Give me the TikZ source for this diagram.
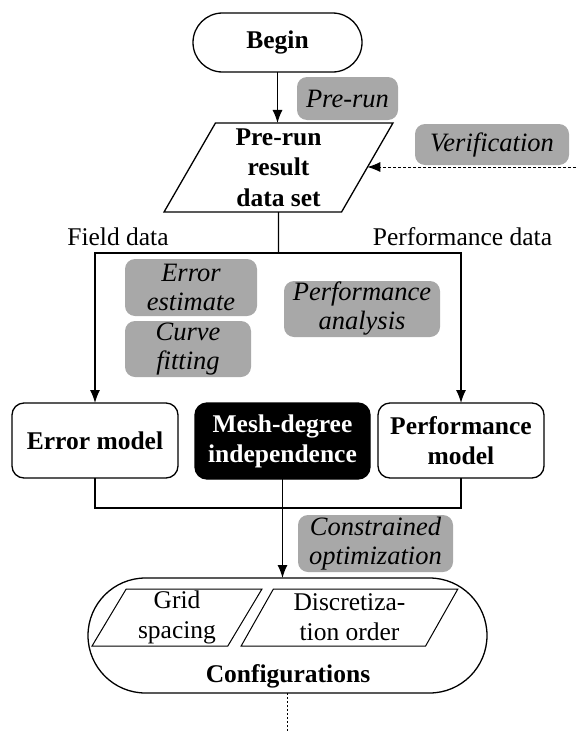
\documentclass[tikz,border=0pt]{standalone}
\usepackage{fontspec}
\setmainfont{Liberation Serif}
\usetikzlibrary{arrows.meta,shapes.geometric}
\definecolor{notegray}{RGB}{168,168,168}

\begin{document}
\begin{tikzpicture}[x=1pt,y=-1pt,
  every node/.style={inner sep=0pt, outer sep=0pt, align=center,
    font=\fontsize{25.5}{30}\selectfont},
  line/.style={line width=1.3pt},
  flow/.style={line, -{Latex[length=13pt,width=10pt]}},
  dashline/.style={line width=1pt, dash pattern=on 3pt off 2pt, -{Latex[length=13pt,width=10pt]}},
  dotline/.style={line width=1pt, dash pattern=on 2pt off 2pt},
  boxnode/.style={draw, line width=1.3pt, rounded corners=12pt,
    font=\fontsize{25.5}{30}\selectfont\bfseries},
  note/.style={fill=notegray, rounded corners=10pt,
    font=\fontsize{26.5}{29}\selectfont\itshape},
  terminal/.style={draw, line width=1.3pt},
  iobox/.style={draw, shape=trapezium, trapezium stretches=true}
]
\useasboundingbox (0,0) rectangle (576,731);

% start terminal and pre-run data
\node[terminal, minimum width=169pt, minimum height=59pt, rounded corners=29.5pt,
  font=\fontsize{25.5}{30}\selectfont\bfseries] (begin) at (277.5,42.5) {Begin};
\node[note, minimum width=101pt, minimum height=43pt] (prerun) at (347.5,98.5) {Pre-run};
\node[iobox, line width=1.3pt, trapezium left angle=65.8, trapezium right angle=114.2,
  minimum width=229pt, minimum height=89pt,
  font=\fontsize{25.5}{30.5}\selectfont\bfseries] (data) at (278.5,167.5) {Pre-run\\result\\data set};
\node[note, minimum width=154pt, minimum height=41pt] (verif) at (492,144.5) {Verification};

% branch labels and annotations
\node[anchor=base] (fieldlbl) at (118,245) {Field data};
\node[anchor=base] (perflbl) at (462.5,245) {Performance data};
\node[note, minimum width=132pt, minimum height=57pt] (errest) at (191,287.5) {Error\\estimate};
\node[note, minimum width=126pt, minimum height=56pt] (curvefit) at (188,349) {Curve\\fitting};
\node[note, minimum width=156pt, minimum height=56pt] (perfan) at (362,309) {Performance\\analysis};

% models
\node[boxnode, minimum width=166pt, minimum height=75pt] (errm) at (95,440.5) {Error model};
\node[boxnode, fill=black, text=white, minimum width=175pt, minimum height=76pt] (mesh) at (282.5,441) {Mesh-degree\\independence};
\node[boxnode, minimum width=166pt, minimum height=75pt] (perfm) at (461,440.5) {Performance\\model};

\node[note, minimum width=155pt, minimum height=57pt] (constr) at (375.5,543.5) {Constrained\\optimization};

% configurations
\node[terminal, minimum width=399pt, minimum height=115pt, rounded corners=57.5pt] (config) at (287.5,635.5) {};
\node[iobox, line width=1pt, trapezium left angle=63.8, trapezium right angle=116.2,
  minimum width=170pt, minimum height=57pt] (grid) at (177,617.5) {Grid\\spacing};
\node[iobox, line width=1pt, trapezium left angle=63.3, trapezium right angle=116.7,
  minimum width=217pt, minimum height=57pt] (disc) at (349.5,617.5) {Discretiza-\\tion order};
\node[anchor=base, font=\fontsize{25.5}{30}\selectfont\bfseries] (cfglbl) at (288,682) {Configurations};

% connectors
\coordinate (split) at (278.5,253);
\coordinate (join) at (282.5,508);
\coordinate (vin) at (576,167);
\coordinate (vout) at (287.5,731);

\draw[flow] (begin.south) -- (begin.south |- data.north);
\draw[dashline] (vin) -- (vin -| data.east);
\draw[line] (data.south) -- (split);
\draw[flow] (split) -| (errm.north);
\draw[flow] (split) -| (perfm.north);
\draw[line] (errm.south) |- (join);
\draw[line] (perfm.south) |- (join);
\draw[flow] (mesh.south) -- (mesh.south |- config.north);
\draw[dotline] (config.south) -- (vout);
\end{tikzpicture}
\end{document}
